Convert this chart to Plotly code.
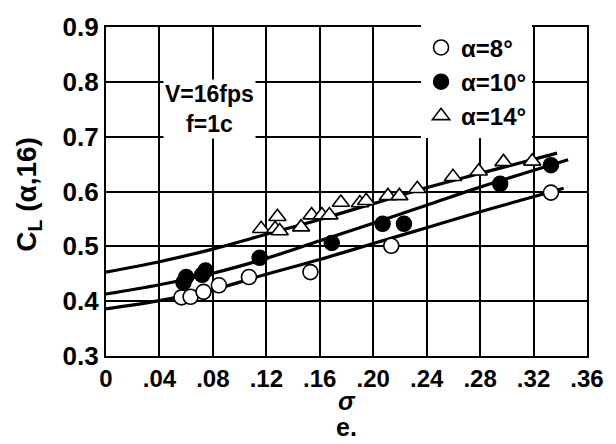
import plotly.graph_objects as go

# Data
s8 = [0.0565, 0.0633, 0.073, 0.0845, 0.107, 0.153, 0.2135, 0.333]
cl8 = [0.407, 0.408, 0.417, 0.429, 0.444, 0.453, 0.501, 0.598]

s10 = [0.058, 0.060, 0.072, 0.0745, 0.115, 0.169, 0.207, 0.223, 0.295, 0.333]
cl10 = [0.434, 0.444, 0.448, 0.456, 0.479, 0.506, 0.541, 0.541, 0.614, 0.648]

s14 = [0.1161, 0.1266, 0.1300, 0.1283, 0.146, 0.1539, 0.1616, 0.1672, 0.1758,
       0.190, 0.1947, 0.211, 0.2196, 0.233, 0.2597, 0.279, 0.2975, 0.319]
cl14 = [0.532, 0.532, 0.528, 0.554, 0.535, 0.557, 0.557, 0.557, 0.580,
        0.579, 0.583, 0.592, 0.592, 0.605, 0.627, 0.637, 0.654, 0.655]

# Faired curves
fit8_s = [0, 0.04, 0.08, 0.12, 0.16, 0.20, 0.24, 0.28, 0.3425]
fit8_cl = [0.386, 0.401, 0.421, 0.449, 0.476, 0.505, 0.534, 0.563, 0.606]
fit10_s = [0, 0.04, 0.08, 0.12, 0.16, 0.20, 0.24, 0.28, 0.3459]
fit10_cl = [0.413, 0.430, 0.451, 0.478, 0.510, 0.542, 0.575, 0.608, 0.658]
fit14_s = [0, 0.04, 0.08, 0.12, 0.16, 0.20, 0.24, 0.28, 0.3376]
fit14_cl = [0.453, 0.472, 0.495, 0.522, 0.549, 0.578, 0.607, 0.633, 0.670]

xticks = [0, 0.04, 0.08, 0.12, 0.16, 0.20, 0.24, 0.28, 0.32, 0.36]
xlabels = ["0", ".04", ".08", ".12", ".16", ".20", ".24", ".28", ".32", ".36"]
yticks = [0.3, 0.4, 0.5, 0.6, 0.7, 0.8, 0.9]
ylabels = ["0.3", "0.4", "0.5", "0.6", "0.7", "0.8", "0.9"]

FONT = "Liberation Sans"

fig = go.Figure()
for xs, ys in [(fit8_s, fit8_cl), (fit10_s, fit10_cl), (fit14_s, fit14_cl)]:
    fig.add_trace(go.Scatter(x=xs, y=ys, mode="lines", line=dict(color="black", width=3.2, shape="spline"),
                             showlegend=False, hoverinfo="skip"))

fig.add_trace(go.Scatter(x=s14, y=cl14, mode="markers", name="α=14°",
                         marker=dict(symbol="triangle-up", size=15, color="white",
                                     line=dict(color="black", width=1.6))))
fig.add_trace(go.Scatter(x=s10, y=cl10, mode="markers", name="α=10°",
                         marker=dict(symbol="circle", size=15, color="black",
                                     line=dict(color="black", width=1.5))))
fig.add_trace(go.Scatter(x=s8, y=cl8, mode="markers", name="α=8°",
                         marker=dict(symbol="circle", size=15, color="white",
                                     line=dict(color="black", width=1.6))))

fig.update_layout(
    width=616, height=444,
    margin=dict(l=106, r=17, t=25, b=88),
    paper_bgcolor="white", plot_bgcolor="white",
    font=dict(family=FONT, size=20, color="black", weight="bold"),
    legend=dict(x=0.655, y=1.005, xanchor="left", yanchor="top", bgcolor="white",
                traceorder="reversed", font=dict(size=24, family=FONT, weight="bold"),
                borderwidth=0, itemwidth=30, tracegroupgap=0),
    xaxis=dict(range=[0, 0.36], tickvals=xticks, ticktext=xlabels, showgrid=True,
               gridcolor="black", gridwidth=1.6, showline=True, linecolor="black",
               linewidth=2.2, mirror=True, zeroline=False, ticks="", ticklen=0,
               ticklabeloverflow="allow",
               tickfont=dict(size=24, family=FONT, weight="bold")),
    yaxis=dict(range=[0.3, 0.9], tickvals=yticks, ticktext=ylabels, showgrid=True,
               gridcolor="black", gridwidth=1.6, showline=True, linecolor="black",
               linewidth=2.2, mirror=True, zeroline=False, ticks="",
               tickfont=dict(size=26, family=FONT, weight="bold")),
    annotations=[
        dict(x=-0.16, y=0.49, xref="paper", yref="paper", text="C<sub>L</sub> (α,16)",
             textangle=-90, showarrow=False, xanchor="center", yanchor="middle",
             font=dict(size=28, family=FONT, weight="bold")),
        dict(x=0.0774, y=0.751, xref="x", yref="y", text="V=16fps<br>f=1c", showarrow=False,
             font=dict(size=23, family=FONT, weight="bold"), bgcolor="white"),
        dict(x=0.5, y=-0.136, xref="paper", yref="paper", text="<i>σ</i>", showarrow=False,
             yanchor="middle", font=dict(size=25, family=FONT, weight="bold")),
        dict(x=0.5, y=-0.215, xref="paper", yref="paper", text="e.", showarrow=False,
             yanchor="middle", font=dict(size=25, family=FONT, weight="bold")),
    ],
)

fig.write_html("out.html")
